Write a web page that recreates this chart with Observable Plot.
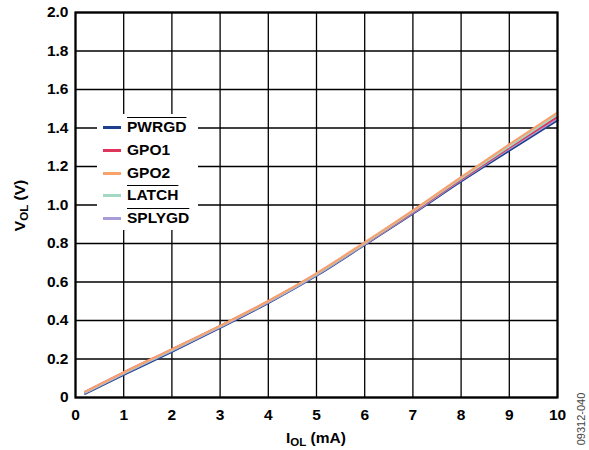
<!DOCTYPE html>
<html>
<head>
<meta charset="utf-8">
<script src="https://cdn.jsdelivr.net/npm/d3@7"></script>
<script src="https://cdn.jsdelivr.net/npm/@observablehq/plot@0.6"></script>
<style>
  body { margin: 0; background: #fff; }
  #wrap { position: relative; width: 589px; height: 450px; overflow: hidden; font-family: "Liberation Sans", Arial, sans-serif; }
  .lab { position: absolute; font-weight: bold; font-size: 15.5px; color: #000; white-space: nowrap; }
  .lab sub { font-size: 11.5px; vertical-align: -3px; }
  #legend { position: absolute; left: 97px; top: 114px; width: 101px; height: 116px; background: #fff; }
  .row { position: absolute; left: 0; height: 20px; }
  .sw { position: absolute; left: 6px; top: 9px; width: 18px; height: 3px; }
  .tx { position: absolute; left: 30px; top: 1px; font-weight: bold; font-size: 15.5px; white-space: nowrap; }
  .ov { text-decoration: overline; }
  #code { position: absolute; font-size: 11px; color: #444; transform: rotate(-90deg); transform-origin: center; white-space: nowrap; }
</style>
</head>
<body>
<div id="wrap"></div>
<script>
// ---- data ----
const current = [0.2, 1, 2, 3, 4, 5, 6, 7, 8, 9, 10];            // I_OL (mA)
const pwrgd  = [0.020, 0.118, 0.238, 0.362, 0.491, 0.633, 0.793, 0.955, 1.123, 1.283, 1.440];
const gpo1   = [0.030, 0.130, 0.250, 0.372, 0.500, 0.642, 0.800, 0.963, 1.133, 1.298, 1.458];
const gpo2   = [0.030, 0.130, 0.250, 0.372, 0.501, 0.645, 0.806, 0.972, 1.145, 1.315, 1.480];
const latch  = [0.028, 0.127, 0.247, 0.370, 0.498, 0.641, 0.801, 0.967, 1.139, 1.305, 1.470];
const splygd = [0.024, 0.123, 0.243, 0.366, 0.494, 0.636, 0.796, 0.959, 1.129, 1.292, 1.450];
const seriesNames = ["PWRGD", "GPO1", "GPO2", "LATCH", "SPLYGD"];
const seriesOverline = [true, false, false, true, true];
const seriesColors = ["#1d3f8c", "#e0345c", "#f8a06e", "#a3d9c2", "#a89bd8"];
const xTicks = [0,1,2,3,4,5,6,7,8,9,10];
const yTicks = [0,0.2,0.4,0.6,0.8,1.0,1.2,1.4,1.6,1.8,2.0];

const seriesValues = [pwrgd, gpo1, gpo2, latch, splygd];
const rows = [];
seriesNames.forEach((name, i) => {
  current.forEach((c, j) => rows.push({series: name, i: c, v: seriesValues[i][j]}));
});
const drawOrder = ["PWRGD", "SPLYGD", "GPO1", "LATCH", "GPO2"];

const W = 589, H = 450;
const mL = 75, mR = 32, mT = 12, mB = 53;

const chart = Plot.plot({
  width: W, height: H,
  marginLeft: mL, marginRight: mR, marginTop: mT, marginBottom: mB,
  style: { fontFamily: "Liberation Sans, Arial, sans-serif", fontSize: "15.5px", fontWeight: "bold", background: "#fff", color: "#000" },
  x: { domain: [0, 10], ticks: xTicks, tickSize: 0, tickPadding: 11, label: null, tickFormat: d => String(d) },
  y: { domain: [0, 2], ticks: yTicks, tickSize: 0, tickPadding: 7, label: null, tickFormat: d => d === 0 ? "0" : d.toFixed(1) },
  color: { domain: seriesNames, range: seriesColors },
  marks: [
    Plot.gridX(xTicks, { stroke: "#000", strokeOpacity: 1, strokeWidth: 1.3 }),
    Plot.gridY(yTicks, { stroke: "#000", strokeOpacity: 1, strokeWidth: 1.3 }),
    ...drawOrder.map(s => Plot.line(rows.filter(r => r.series === s), { x: "i", y: "v", stroke: "series", strokeWidth: 2.2, curve: "monotone-x" })),
    Plot.frame({ stroke: "#000", strokeWidth: 2.2 })
  ]
});

const wrap = document.getElementById("wrap");
wrap.appendChild(chart);
chart.style.position = "absolute";
chart.style.left = "0px";
chart.style.top = "0px";

// Legend
const legend = document.createElement("div");
legend.id = "legend";
seriesNames.forEach((n, k) => {
  const r = document.createElement("div");
  r.className = "row";
  r.style.top = (3 + k * 22.8) + "px";
  const sw = document.createElement("div");
  sw.className = "sw";
  sw.style.background = seriesColors[k];
  const tx = document.createElement("div");
  tx.className = "tx" + (seriesOverline[k] ? " ov" : "");
  tx.textContent = n;
  r.appendChild(sw); r.appendChild(tx);
  legend.appendChild(r);
});
wrap.appendChild(legend);

// Axis titles
const xt = document.createElement("div");
xt.className = "lab";
xt.innerHTML = "I<sub>OL</sub> (mA)";
wrap.appendChild(xt);
xt.style.left = (316 - xt.offsetWidth / 2) + "px";
xt.style.top = "429px";

const yt = document.createElement("div");
yt.className = "lab";
yt.innerHTML = "V<sub>OL</sub> (V)";
wrap.appendChild(yt);
const yw = yt.offsetWidth, yh = yt.offsetHeight;
yt.style.left = (20 - yw / 2) + "px";
yt.style.top = (205 - yh / 2) + "px";
yt.style.transform = "rotate(-90deg)";

const code = document.createElement("div");
code.id = "code";
code.textContent = "09312-040";
wrap.appendChild(code);
const cw = code.offsetWidth, ch = code.offsetHeight;
code.style.left = (581 - cw / 2) + "px";
code.style.top = (419 - ch / 2) + "px";
</script>
</body>
</html>
